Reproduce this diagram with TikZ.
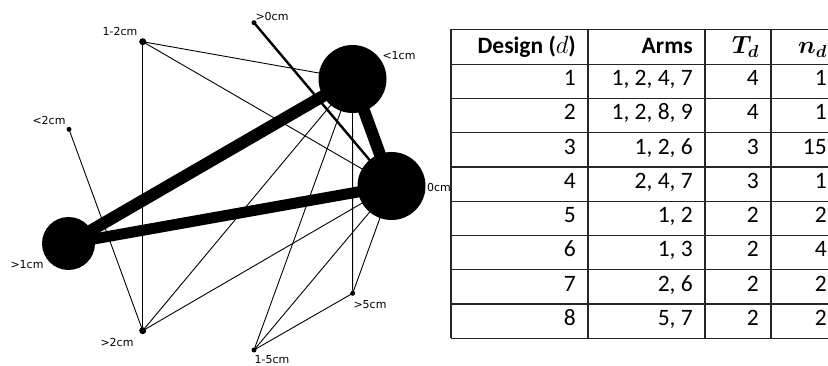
\documentclass[tikz,border=0pt]{standalone}
\usepackage{fontspec}
\setmainfont{Carlito}
\newfontfamily\netfont{DejaVu Sans}
\usepackage{bm}
\usetikzlibrary{backgrounds}

\begin{document}
\begin{tikzpicture}[x=1pt,y=-1pt,
  bigdot/.style={circle,fill=black,inner sep=0pt,minimum size=#1},
  smalldot/.style={circle,fill=black,inner sep=0pt,minimum size=#1},
  netlabel/.style={font=\netfont\fontsize{11}{13}\selectfont,inner sep=0pt},
  thinlink/.style={line width=0.9pt},
  midlink/.style={line width=2.4pt},
  heavylink/.style={line width=#1},
  gridline/.style={line width=1.3pt,black!85},
  cell/.style={font=\fontsize{23.5}{27}\selectfont,anchor=base east,inner sep=0pt},
  headcell/.style={cell,font=\bfseries\fontsize{23.5}{27}\selectfont}
]
\useasboundingbox (0,0) rectangle (828,366);

% ---------- network of treatments ----------
\node[bigdot=68] (lt1) at (352.5,79) {};
\node[bigdot=68] (z0)  at (391.5,186) {};
\node[bigdot=53] (gt1) at (68.5,243.5) {};
\node[smalldot=7] (s12)  at (142.7,41.7) {};
\node[smalldot=5] (sgt0) at (254,22.7) {};
\node[smalldot=5] (slt2) at (69,129.3) {};
\node[smalldot=5] (sgt5) at (352.7,293.3) {};
\node[smalldot=7] (sgt2) at (142.7,330.7) {};
\node[smalldot=5] (s15)  at (254,350) {};

\node[netlabel] (l12)  at (120,31)  {1-2cm};
\node[netlabel] (lgt0) at (272,16)  {>0cm};
\node[netlabel] (llt1) at (399,56)  {<1cm};
\node[netlabel] (llt2) at (49,120)  {<2cm};
\node[netlabel,anchor=west] (lz0) at (427,187) {0cm};
\node[netlabel] (lgt1) at (27,265)  {>1cm};
\node[netlabel] (lgt5) at (370,305) {>5cm};
\node[netlabel] (lgt2) at (117,342) {>2cm};
\node[netlabel] (l15)  at (272,360) {1-5cm};

\begin{pgfonlayer}{background}
  \draw[thinlink] (s12.center) -- (sgt2.center);
  \draw[thinlink] (s12.center) -- (lt1.center);
  \draw[thinlink] (s12.center) -- (z0.center);
  \draw[thinlink] (slt2.center) -- (sgt2.center);
  \draw[thinlink] (lt1.center) -- (sgt2.center);
  \draw[thinlink] (z0.center) -- (sgt2.center);
  \draw[thinlink] (lt1.center) -- (s15.center);
  \draw[thinlink] (z0.center) -- (s15.center);
  \draw[thinlink] (lt1.center) -- (sgt5.center);
  \draw[thinlink] (z0.center) -- (sgt5.center);
  \draw[thinlink] (s15.center) -- (sgt5.center);
  \draw[midlink] (sgt0.center) -- (z0.center);
  \draw[heavylink=12pt] (lt1.center) -- (gt1.center);
  \draw[heavylink=11pt] (z0.center) -- (gt1.center);
  \draw[heavylink=12pt] (lt1.center) -- (z0.center);
\end{pgfonlayer}

% ---------- table of designs ----------
\foreach \yy in {29.3,64.3,98.55,132.8,167.05,201.3,235.55,269.8,304.05,338.3}
  \draw[gridline] (451,\yy) -- (839,\yy);
\foreach \xx in {451,588,705,771,839}
  \draw[gridline] (\xx,29.3) -- (\xx,338.3);

\node[headcell] (hd) at (576,53.3) {Design ($d$)};
\node[headcell] (ha) at (693,53.3) {Arms};
\node[cell] (ht) at (759,53.3) {$\bm{T_d}$};
\node[cell] (hn) at (827,53.3) {$\bm{n_d}$};

\foreach \d/\arms/\t/\n [count=\i] in
  {1/{1, 2, 4, 7}/4/1, 2/{1, 2, 8, 9}/4/1, 3/{1, 2, 6}/3/15, 4/{2, 4, 7}/3/1,
   5/{1, 2}/2/2, 6/{1, 3}/2/4, 7/{2, 6}/2/2, 8/{5, 7}/2/2}
{
  \pgfmathsetmacro\yb{64.3+(\i-1)*34.25+21.4}
  \node[cell] (d\i) at (576,\yb) {\d};
  \node[cell] (a\i) at (693,\yb) {\arms};
  \node[cell] (t\i) at (759,\yb) {\t};
  \node[cell] (n\i) at (827,\yb) {\n};
}
\end{tikzpicture}
\end{document}
